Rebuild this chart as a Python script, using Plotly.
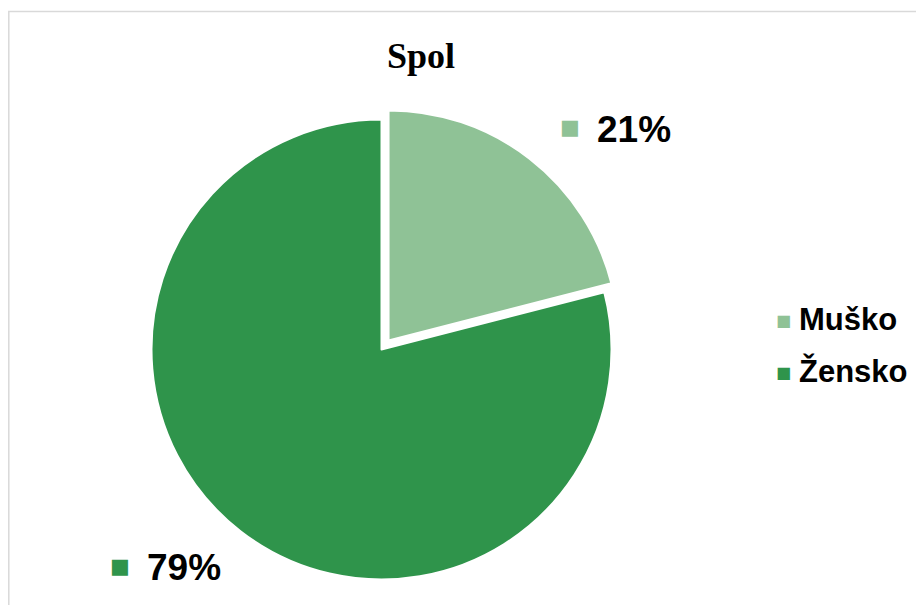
import plotly.graph_objects as go

labels = ["Muško", "Žensko"]
values = [21, 79]
colors = ["#8FC296", "#2F944B"]
title_text = "Spol"

# the page adds an 8px body margin; work in page coordinates and convert
OFF = 8
W, H = 924 - OFF, 605 - OFF
pull = 0.05
R = 230
cx, cy = 381.5, 349.5
box = 2 * R * (1 + pull)


def px(x):
    return (x - OFF) / W


def py(y):
    return 1 - (y - OFF) / H


fig = go.Figure()
fig.add_trace(go.Pie(
    labels=labels,
    values=values,
    marker=dict(colors=colors, line=dict(color="white", width=2)),
    pull=[pull, 0],
    sort=False,
    direction="clockwise",
    rotation=0,
    textinfo="none",
    hoverinfo="label+percent",
    showlegend=False,
    domain=dict(
        x=[px(cx - box / 2), px(cx + box / 2)],
        y=[py(cy + box / 2), py(cy - box / 2)],
    ),
))

total = sum(values)
pcts = [f"{round(100 * v / total)}%" for v in values]

annotations = []
# percentage labels with colored squares
label_pos = [(570, 127, 595, 130), (120, 566, 145, 567)]
for (sx, sy, tx, ty), pct, col in zip(label_pos, pcts, colors):
    annotations.append(dict(x=px(sx), y=py(sy), xref="paper", yref="paper",
                            text="■", showarrow=False, xanchor="center", yanchor="middle",
                            font=dict(family="DejaVu Sans", size=21, color=col)))
    annotations.append(dict(x=px(tx), y=py(ty), xref="paper", yref="paper",
                            text=f"<b>{pct}</b>", showarrow=False, xanchor="left", yanchor="middle",
                            font=dict(family="Liberation Sans, Arial", size=37, color="black")))

# legend
legend_pos = [(783, 320), (783, 372)]
for (sx, sy), lab, col in zip(legend_pos, labels, colors):
    annotations.append(dict(x=px(sx), y=py(sy), xref="paper", yref="paper",
                            text="■", showarrow=False, xanchor="center", yanchor="middle",
                            font=dict(family="DejaVu Sans", size=16, color=col)))
    annotations.append(dict(x=px(sx + 14), y=py(sy - 1), xref="paper", yref="paper",
                            text=f"<b>{lab}</b>", showarrow=False, xanchor="left", yanchor="middle",
                            font=dict(family="Liberation Sans, Arial", size=31, color="black")))

fig.update_layout(
    width=W, height=H,
    margin=dict(l=0, r=0, t=0, b=0),
    paper_bgcolor="white",
    plot_bgcolor="white",
    title=dict(text=f"<b>{title_text}</b>", x=px(421), xanchor="center",
               y=py(55), yanchor="middle",
               font=dict(family="Liberation Serif, Times New Roman", size=36, color="black")),
    annotations=annotations,
    shapes=[dict(type="rect", xref="paper", yref="paper",
                 x0=0.8 / W, x1=1.05, y0=-0.05, y1=py(11.5),
                 line=dict(color="#D9D9D9", width=1.5), fillcolor="rgba(0,0,0,0)", layer="below")],
    showlegend=False,
)

fig.write_html("out.html")
